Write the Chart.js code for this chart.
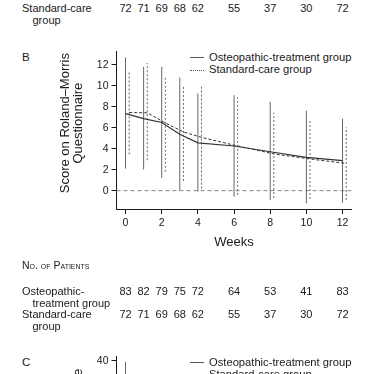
<!DOCTYPE html>
<html lang="en">
<head>
<meta charset="UTF-8">
<title>Roland–Morris scores by week</title>
<script src="https://cdn.jsdelivr.net/npm/chart.js"></script>
<style>
    body {
        margin: 0;
        width: 374px;
        height: 374px;
        overflow: hidden;
        position: relative;
        background: #fff;
        color: #1a1a1a;
        font-family: "Liberation Sans", Arial, sans-serif;
    }
    .t { position: absolute; font-size: 11px; line-height: 12px; white-space: nowrap; }
    .ind { padding-left: 10.5px; }
    .num { position: absolute; font-size: 11px; line-height: 12px; transform: translateX(-50%); }
    .caps { font-variant: small-caps; font-size: 10.5px; }
    .key { position: absolute; left: 190px; font-size: 11.2px; line-height: 12px; white-space: nowrap; }
    .key i { display: inline-block; width: 14px; height: 0; vertical-align: middle; margin-right: 5px; }
    .solid { border-top: 1px solid #555; }
    .dots { border-top: 1px dotted #555; }
    canvas { position: absolute; left: 0; }
</style>
</head>
<body>
    <!-- tail of panel A's table -->
    <div class="t" style="left:22px;top:2px">Standard-care<div class="ind">group</div></div>
    <div id="rowTop"></div>

    <div class="t" style="left:22px;top:51px;font-size:11.5px">B</div>
    <div class="key" style="top:50.7px"><i class="solid"></i>Osteopathic-treatment group</div>
    <div class="key" style="top:63.3px"><i class="dots"></i>Standard-care group</div>
    <canvas id="chartB" width="374" height="220" style="top:40px"></canvas>

    <div class="t caps" style="left:22px;top:259px">No. of Patients</div>
    <div class="t" style="left:22px;top:285px">Osteopathic-<div class="ind">treatment group</div></div>
    <div class="t" style="left:22px;top:307.5px">Standard-care<div class="ind">group</div></div>
    <div id="rowOsteo"></div>
    <div id="rowStandard"></div>

    <div class="t" style="left:22px;top:355.7px;font-size:11.5px">C</div>
    <div class="key" style="top:355.7px"><i class="solid"></i>Osteopathic-treatment group</div>
    <div class="key" style="top:368.3px"><i class="dots"></i>Standard-care group</div>
    <canvas id="chartC" width="374" height="176" style="top:346px"></canvas>

<script>
    // panel B: Roland-Morris score, mean and +/- SD range per week
    const weeks = [0, 1, 2, 3, 4, 6, 8, 10, 12];
    const osteoMean = [7.35, 6.87, 6.5, 5.38, 4.56, 4.26, 3.71, 3.18, 2.86];
    const osteoLow = [2.11, 2.02, 1.22, 0.0, -0.1, -0.57, -0.9, -1.2, -1.14];
    const osteoHigh = [12.7, 11.8, 11.8, 10.78, 9.26, 9.1, 8.48, 7.62, 6.86];
    const standardMean = [7.45, 7.42, 6.46, 5.6, 5.08, 4.26, 3.5, 3.02, 2.6];
    const standardLow = [3.45, 2.9, 1.8, 0.93, 0.2, -0.4, -0.7, -0.8, -0.89];
    const standardHigh = [11.48, 12.17, 10.9, 9.95, 9.9, 8.9, 7.43, 6.8, 6.03];

    // number of patients
    const osteoPatients = [83, 82, 79, 75, 72, 64, 53, 41, 83];
    const standardPatients = [72, 71, 69, 68, 62, 55, 37, 30, 72];

    const xTicks = [0, 2, 4, 6, 8, 10, 12];
    const yTicks = [0, 2, 4, 6, 8, 10, 12];

    // panel C, only its top edge shows
    const cWeeks = [0];
    const cOsteoLow = [12];
    const cOsteoHigh = [39.6];
    const cYTicks = [0, 10, 20, 30, 40];

    const standardShift = 0.2; // standard-care marks sit just right of each week
    const xMin = -0.5, xMax = 12.5;
    const ink = '#1a1a1a';
    const tickFont = { family: '"Liberation Sans", Arial, sans-serif', size: 10.5 };
    const titleFont = { family: '"Liberation Sans", Arial, sans-serif', size: 13, lineHeight: 1.05 };

    const pts = (xs, ys) => xs.map((x, i) => ({ x: x, y: ys[i] }));
    const bars = (xs, lo, hi) => xs.flatMap((x, i) => [{ x: x, y: lo[i] }, { x: x, y: hi[i] }, { x: x, y: null }]);
    const shifted = weeks.map(w => w + standardShift);

    function makeChart(id, datasets, yMin, yMax, yTickList, yTitle, padTop) {
        return new Chart(document.getElementById(id), {
            type: 'line',
            data: { datasets: datasets },
            options: {
                responsive: false,
                animation: false,
                layout: { padding: { top: padTop, right: 22.4, bottom: 0, left: 0 } },
                plugins: { legend: { display: false }, tooltip: { enabled: false } },
                elements: { point: { radius: 0 }, line: { tension: 0 } },
                scales: {
                    x: {
                        type: 'linear', min: xMin, max: xMax,
                        afterBuildTicks: s => { s.ticks = xTicks.map(v => ({ value: v })); },
                        afterFit: s => { s.height = 51; },
                        grid: { drawOnChartArea: false, tickLength: 5, color: ink },
                        border: { color: ink, width: 1 },
                        ticks: { color: ink, font: tickFont, padding: 3, maxRotation: 0 },
                        title: { display: true, text: 'Weeks', color: ink, font: titleFont, padding: { top: 0, bottom: 10.3 } }
                    },
                    y: {
                        type: 'linear', min: yMin, max: yMax,
                        afterBuildTicks: s => { s.ticks = yTickList.map(v => ({ value: v })); },
                        afterFit: s => { s.width = 116.5; },
                        grid: { drawOnChartArea: false, tickLength: 5, color: ink },
                        border: { color: ink, width: 1 },
                        ticks: { color: ink, font: tickFont, padding: 3 },
                        title: { display: true, text: yTitle, color: ink, font: titleFont, padding: { top: 58.2, bottom: 0 } }
                    }
                }
            }
        });
    }

    // leading no-break spaces lift the centred title a little above the plot's middle, as in the print
    const lift = '\u00a0\u00a0\u00a0\u00a0';
    const chartB = makeChart('chartB', [
        { data: pts(weeks, osteoMean), borderColor: '#333', borderWidth: 1.2 },
        { data: pts(shifted, standardMean), borderColor: '#333', borderWidth: 1, borderDash: [3, 2] },
        { data: bars(weeks, osteoLow, osteoHigh), borderColor: '#666', borderWidth: 1 },
        { data: bars(shifted, standardLow, standardHigh), borderColor: '#666', borderWidth: 1, borderDash: [2, 2] },
        { data: [{ x: xMin, y: 0 }, { x: xMax, y: 0 }], borderColor: '#888', borderWidth: 1, borderDash: [4, 3] }
    ], -1.75, 13.25, yTicks, [lift + 'Score on Roland\u2013Morris', lift + 'Questionnaire'], 11.7);

    makeChart('chartC', [
        { data: bars(cWeeks, cOsteoLow, cOsteoHigh), borderColor: '#666', borderWidth: 1 }
    ], -5, 42, cYTicks, ['Oswestry', 'Disability Score'], 10);

    // patient counts sit under the weeks of the B chart's x axis
    function fillRow(elId, values, top) {
        const row = document.getElementById(elId);
        values.forEach((v, i) => {
            const d = document.createElement('div');
            d.className = 'num';
            d.style.top = top + 'px';
            d.style.left = chartB.scales.x.getPixelForValue(weeks[i]) + 'px';
            d.textContent = v;
            row.appendChild(d);
        });
    }
    fillRow('rowTop', standardPatients, 2);
    fillRow('rowOsteo', osteoPatients, 285);
    fillRow('rowStandard', standardPatients, 307.5);
</script>
</body>
</html>
